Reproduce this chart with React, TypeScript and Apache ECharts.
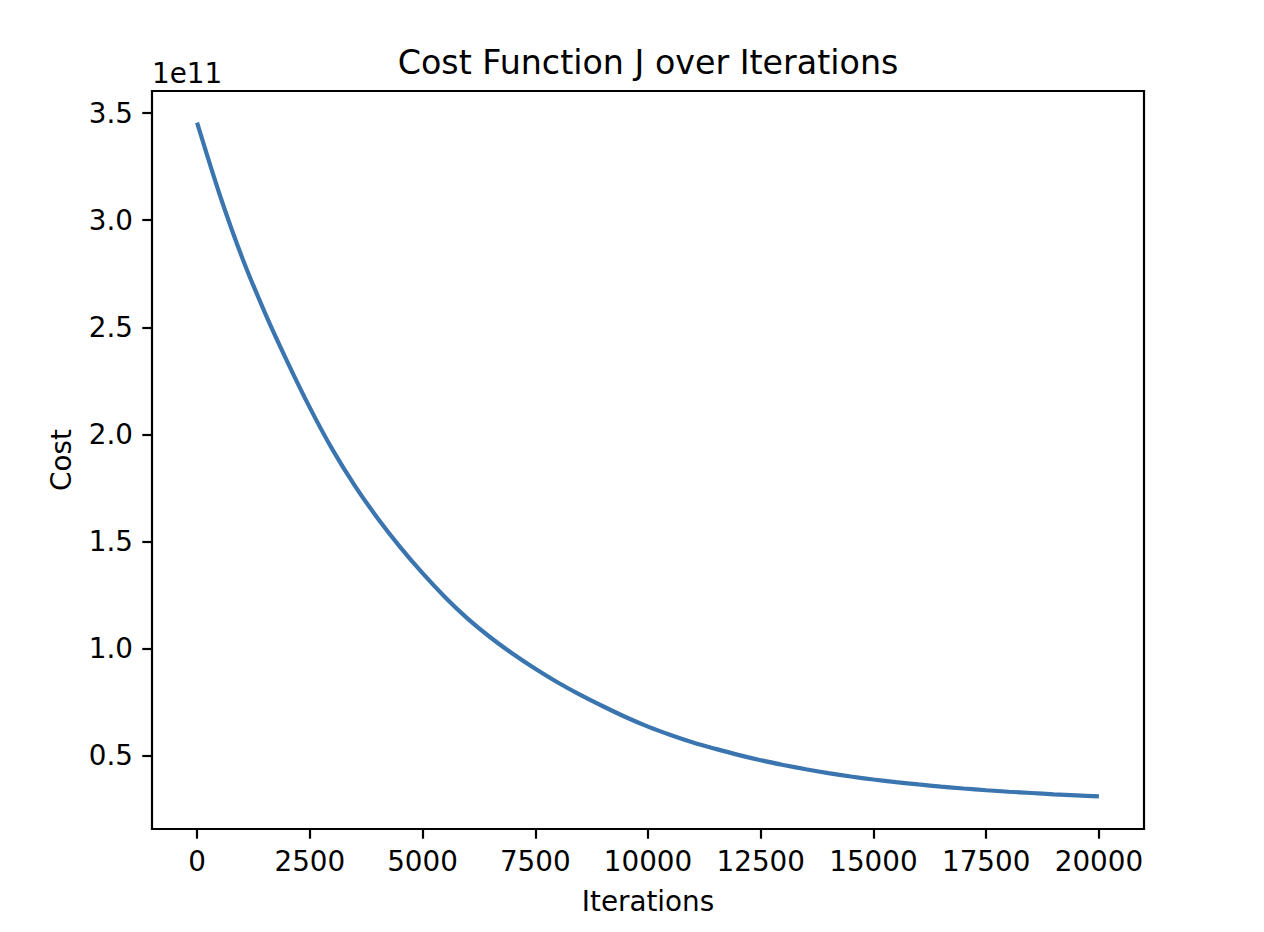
import React, { useEffect, useRef } from "react";
import * as echarts from "echarts";

// Cost values are in units of 1e11, read every 500 iterations
const iterations = [0, 500, 1000, 1500, 2000, 2500, 3000, 3500, 4000, 4500, 5000, 5500, 6000, 6500, 7000, 7500, 8000, 8500, 9000, 9500, 10000, 10500, 11000, 11500, 12000, 12500, 13000, 13500, 14000, 14500, 15000, 15500, 16000, 16500, 17000, 17500, 18000, 18500, 19000, 19500, 20000];
const cost = [3.455, 3.12, 2.825, 2.57, 2.34, 2.125, 1.93, 1.76, 1.61, 1.475, 1.352, 1.24, 1.14, 1.053, 0.976, 0.906, 0.842, 0.784, 0.731, 0.681, 0.636, 0.597, 0.562, 0.532, 0.504, 0.479, 0.457, 0.437, 0.419, 0.403, 0.389, 0.377, 0.366, 0.356, 0.347, 0.339, 0.332, 0.326, 0.32, 0.315, 0.31];
const xTicks = [0, 2500, 5000, 7500, 10000, 12500, 15000, 17500, 20000];
const yTicks = [0.5, 1.0, 1.5, 2.0, 2.5, 3.0, 3.5];

const FONT = '"DejaVu Sans", "Liberation Sans", sans-serif';

export default function App() {
  const ref = useRef<HTMLDivElement>(null);
  useEffect(() => {
    document.body.style.margin = "0";
    if (!ref.current) return;
    const chart = echarts.init(ref.current, undefined, { renderer: "svg" });
    const data = iterations.map((t, i) => [t, cost[i]]);
    chart.setOption({
      animation: false,
      backgroundColor: "#fff",
      grid: {
        left: 152,
        top: 91,
        width: 992,
        height: 738,
        show: true,
        borderColor: "#000",
        borderWidth: 2.2,
        backgroundColor: "transparent",
      },
      xAxis: {
        type: "value",
        min: -1000,
        max: 21000,
        position: "bottom",
        splitLine: { show: false },
        axisLine: { show: false, onZero: false },
        axisTick: {
          show: true,
          inside: false,
          customValues: xTicks,
          length: 9.7,
          lineStyle: { color: "#000", width: 2.2 },
        },
        axisLabel: {
          customValues: xTicks,
          margin: 18,
          fontSize: 27.8,
          color: "#000",
          fontFamily: FONT,
          formatter: (v: number) => String(v),
        },
      },
      yAxis: {
        type: "value",
        min: 0.158,
        max: 3.603,
        position: "left",
        splitLine: { show: false },
        axisLine: { show: false, onZero: false },
        axisTick: {
          show: true,
          inside: false,
          customValues: yTicks,
          length: 9.7,
          lineStyle: { color: "#000", width: 2.2 },
        },
        axisLabel: {
          customValues: yTicks,
          margin: 19,
          fontSize: 27.8,
          color: "#000",
          fontFamily: FONT,
          formatter: (v: number) => v.toFixed(1),
        },
      },
      series: [
        {
          type: "line",
          data,
          showSymbol: false,
          smooth: 0.3,
          lineStyle: { color: "#3b75af", width: 4.2 },
          itemStyle: { color: "#3b75af" },
          clip: true,
        },
      ],
      graphic: [
        {
          type: "text",
          x: 648,
          y: 62,
          style: { text: "Cost Function J over Iterations", font: `33.3px ${FONT}`, fill: "#000", align: "center", verticalAlign: "middle" },
        },
        {
          type: "text",
          x: 152,
          y: 73.5,
          style: { text: "1e11", font: `27.8px ${FONT}`, fill: "#000", align: "left", verticalAlign: "middle" },
        },
        {
          type: "text",
          x: 648,
          y: 901,
          style: { text: "Iterations", font: `27.8px ${FONT}`, fill: "#000", align: "center", verticalAlign: "middle" },
        },
        {
          type: "text",
          x: 61,
          y: 460,
          rotation: Math.PI / 2,
          style: { text: "Cost", font: `27.8px ${FONT}`, fill: "#000", align: "center", verticalAlign: "middle" },
        },
      ],
    });
    return () => chart.dispose();
  }, []);
  return <div ref={ref} style={{ width: 1264, height: 932 }} />;
}
